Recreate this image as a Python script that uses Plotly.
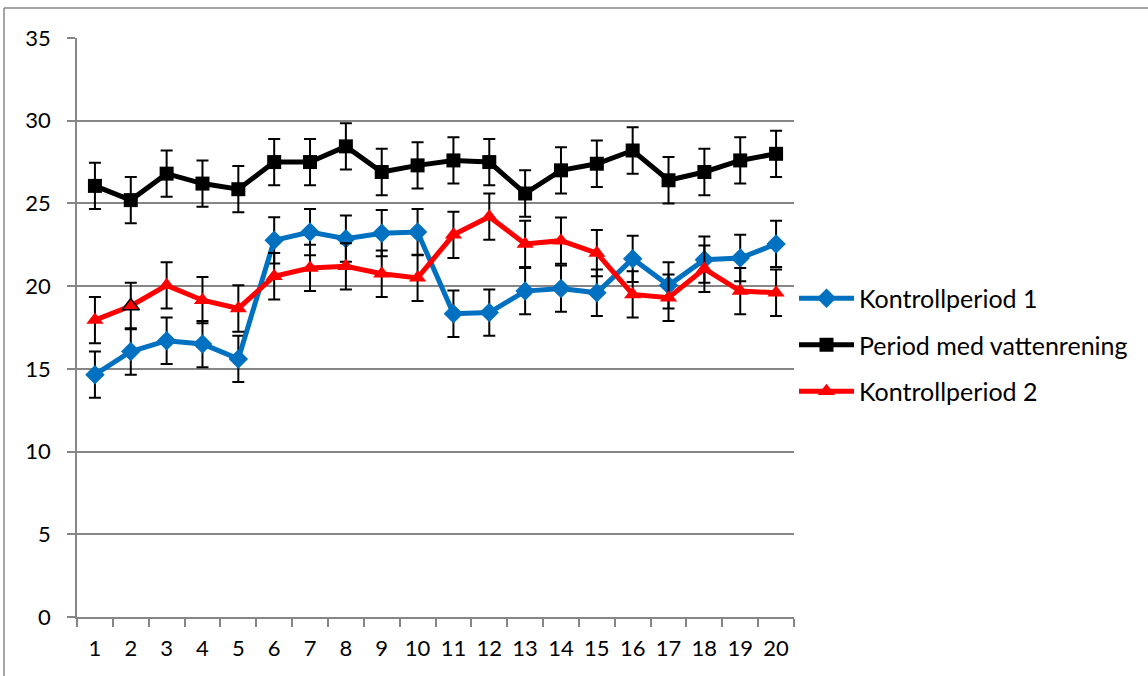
import plotly.graph_objects as go

categories = [str(i) for i in range(1, 21)]

kontroll1 = [14.65, 16.05, 16.7, 16.5, 15.6, 22.77, 23.27, 22.87, 23.2, 23.27,
             18.33, 18.4, 19.7, 19.85, 19.6, 21.65, 20.05, 21.6, 21.7, 22.55]
vattenrening = [26.06, 25.2, 26.8, 26.2, 25.86, 27.5, 27.5, 28.45, 26.9, 27.3,
                27.6, 27.5, 25.6, 27.0, 27.4, 28.2, 26.4, 26.9, 27.6, 28.0]
kontroll2 = [17.95, 18.8, 20.05, 19.15, 18.65, 20.6, 21.1, 21.2, 20.75, 20.5,
             23.1, 24.2, 22.55, 22.75, 22.0, 19.5, 19.3, 21.05, 19.7, 19.6]

err1 = [1.4] * 20
err_v = [1.4] * 20
err2 = [1.4] * 20

names = ["Kontrollperiod 1", "Period med vattenrening", "Kontrollperiod 2"]

FONT = "Lato"
GRID = "#868686"

W, H = 1148, 676
L, R, T, B = 77, 354, 38, 59

fig = go.Figure()

def add(y, err, name, color, symbol, size, group, line_colors=None, line_widths=None):
    marker = dict(color=color, symbol=symbol, size=size)
    if line_colors is not None:
        marker["line"] = dict(color=line_colors, width=line_widths)
    else:
        marker["line"] = dict(color=color, width=0)
    fig.add_trace(go.Scatter(
        x=categories, y=y, name=name, mode="lines+markers",
        line=dict(color=color, width=5),
        marker=marker,
        legendgroup=group,
        error_y=dict(type="data", array=err, visible=True, color="black",
                     thickness=2, width=6),
    ))

add(kontroll1, err1, names[0], "#0070C0", "diamond", 15, "a")
add(vattenrening, err_v, names[1], "black", "square", 14, "b")
lc = ["#FF0000"] * 20
lw = [0] * 20
lc[1] = "black"
lw[1] = 1.5
add(kontroll2, err2, names[2], "#FF0000", "triangle-up", 15, "c", lc, lw)

# outer frame lines (top and left)
pw = W - L - R
ph = H - T - B
fx = (4 - L) / pw
fy = 1 + (T - 8) / ph
fig.add_shape(type="line", xref="paper", yref="paper", x0=fx, x1=(W - L) / pw + 0.01,
              y0=fy, y1=fy, line=dict(color=GRID, width=1.5))
fig.add_shape(type="line", xref="paper", yref="paper", x0=fx, x1=fx,
              y0=fy, y1=-(B + 5) / ph, line=dict(color=GRID, width=1.5))

fig.update_layout(
    width=W, height=H,
    margin=dict(l=L, r=R, t=T, b=B, pad=0),
    paper_bgcolor="white", plot_bgcolor="white",
    font=dict(family=FONT, size=22, color="black"),
    showlegend=True,
    legend=dict(
        x=1.0, xanchor="left", xref="paper",
        y=1 - (345 - T) / ph, yanchor="middle",
        font=dict(family=FONT, size=25, color="black"),
        itemwidth=55, tracegroupgap=11, bgcolor="rgba(0,0,0,0)",
    ),
    xaxis=dict(
        type="category", range=[-0.5, 19.5], autorange=False,
        showgrid=False, showline=True, linecolor=GRID, linewidth=1.5,
        ticks="outside", tickson="boundaries", ticklen=8, tickcolor=GRID, tickwidth=1.5,
        tickangle=0, ticklabelstandoff=11, tickfont=dict(family=FONT, size=22),
    ),
    yaxis=dict(
        range=[0, 35], dtick=5, showgrid=True, gridcolor=GRID, gridwidth=1.5,
        showline=True, linecolor=GRID, linewidth=1.5, zeroline=False,
        ticks="outside", ticklen=8, tickcolor=GRID, tickwidth=1.5,
        ticklabelstandoff=12, tickfont=dict(family=FONT, size=22),
    ),
)

fig.write_html("out.html", config={"displayModeBar": False},
               post_script="document.body.style.margin='0';document.body.style.overflow='hidden';")
